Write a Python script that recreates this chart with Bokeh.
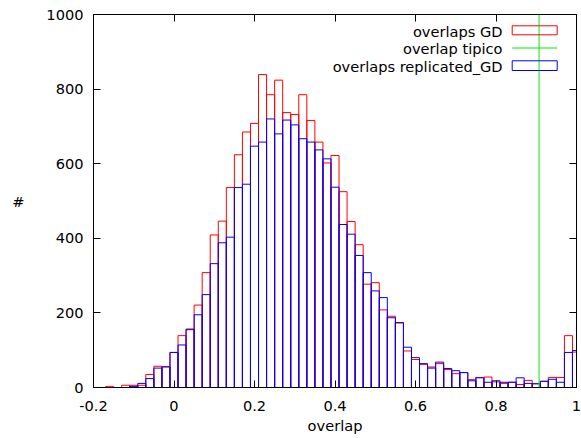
from bokeh.plotting import figure
from bokeh.models import (Range1d, LinearAxis, FixedTicker, Span, BoxAnnotation,
                          Label, CustomJSTickFormatter, ColumnDataSource)
from bokeh.embed import file_html
from bokeh.resources import INLINE

# ---------------- data ----------------
bin_centers = [-0.18, -0.16, -0.14, -0.12, -0.10, -0.08, -0.06, -0.04, -0.02, 0.00,
               0.02, 0.04, 0.06, 0.08, 0.10, 0.12, 0.14, 0.16, 0.18, 0.20,
               0.22, 0.24, 0.26, 0.28, 0.30, 0.32, 0.34, 0.36, 0.38, 0.40,
               0.42, 0.44, 0.46, 0.48, 0.50, 0.52, 0.54, 0.56, 0.58, 0.60,
               0.62, 0.64, 0.66, 0.68, 0.70, 0.72, 0.74, 0.76, 0.78, 0.80,
               0.82, 0.84, 0.86, 0.88, 0.90, 0.92, 0.94, 0.96, 0.98, 1.00]
bin_width = 0.02

overlaps_gd = [0, 3, 0, 6, 6, 6, 35, 57, 56, 94,
               139, 157, 221, 308, 409, 446, 536, 624, 685, 708,
               839, 785, 824, 737, 732, 785, 716, 658, 602, 622,
               525, 445, 383, 277, 281, 208, 191, 173, 98, 75,
               62, 55, 64, 48, 37, 40, 21, 27, 28, 15,
               11, 14, 8, 19, 10, 16, 27, 27, 139, 95]

overlaps_replicated_gd = [0, 0, 0, 0, 3, 11, 24, 52, 55, 94,
                          114, 155, 195, 249, 332, 388, 403, 536, 545, 647,
                          658, 720, 680, 717, 704, 667, 658, 637, 613, 537,
                          437, 411, 354, 308, 259, 241, 187, 174, 108, 80,
                          64, 52, 68, 51, 45, 40, 18, 26, 14, 18,
                          14, 14, 26, 11, 10, 17, 22, 14, 94, 99]

overlap_tipico = 0.907

x_ticks = [-0.2, 0, 0.2, 0.4, 0.6, 0.8, 1.0]
x_tick_labels = ["-0.2", "0", "0.2", "0.4", "0.6", "0.8", "1"]
y_ticks = [0, 200, 400, 600, 800, 1000]
y_tick_labels = ["0", "200", "400", "600", "800", "1000"]
legend_labels = ["overlaps GD", "overlap tipico", "overlaps replicated_GD"]

RED = "#ff0000"
GREEN = "#00ee00"
BLUE = "#0000ff"
FONT = "DejaVu Sans"
FS = "14.6px"

# ---------------- figure ----------------
p = figure(width=581, height=438, output_backend="svg", toolbar_location=None,
           x_range=Range1d(-0.2, 1.0), y_range=Range1d(0, 1000),
           min_border_left=93, min_border_right=5, min_border_top=14,
           min_border_bottom=51, x_axis_label="overlap", y_axis_label="#")
p.grid.visible = False
p.outline_line_color = "black"
p.outline_line_width = 1
p.background_fill_color = "white"
p.border_fill_color = "white"

lefts = [c - bin_width / 2 for c in bin_centers]
rights = [c + bin_width / 2 for c in bin_centers]
src = ColumnDataSource(dict(left=lefts, right=rights, gd=overlaps_gd,
                            rep=overlaps_replicated_gd,
                            bottom=[0] * len(bin_centers)))

p.quad(left="left", right="right", bottom="bottom", top="gd", source=src,
       fill_color=None, line_color=RED, line_width=1)
p.quad(left="left", right="right", bottom="bottom", top="rep", source=src,
       fill_color=None, line_color=BLUE, line_width=1)

p.add_layout(Span(location=overlap_tipico, dimension="height",
                  line_color=GREEN, line_width=1))

# axes
xax = p.xaxis[0]
xax.ticker = FixedTicker(ticks=x_ticks)
xax.major_label_overrides = dict(zip(x_ticks, x_tick_labels))
yax = p.yaxis[0]
yax.ticker = FixedTicker(ticks=y_ticks)
yax.major_label_overrides = dict(zip(y_ticks, y_tick_labels))
for ax in (xax, yax):
    ax.major_tick_in = 7
    ax.major_tick_out = 0
    ax.minor_tick_line_color = None
    ax.axis_line_color = "black"
    ax.major_tick_line_color = "black"
    ax.major_label_text_font = FONT
    ax.major_label_text_font_size = FS
    ax.major_label_text_color = "black"
    ax.axis_label_text_font = FONT
    ax.axis_label_text_font_size = FS
    ax.axis_label_text_font_style = "normal"
    ax.axis_label_text_color = "black"
xax.major_label_standoff = 13
xax.axis_label_standoff = 3
yax.major_label_standoff = 10
yax.axis_label_standoff = 19
yax.axis_label_orientation = "horizontal"

empty = CustomJSTickFormatter(code="return ''")
top_ax = LinearAxis(ticker=FixedTicker(ticks=x_ticks), formatter=empty)
right_ax = LinearAxis(ticker=FixedTicker(ticks=y_ticks), formatter=empty)
for ax in (top_ax, right_ax):
    ax.major_tick_in = 7
    ax.major_tick_out = 0
    ax.minor_tick_line_color = None
    ax.axis_line_color = "black"
    ax.major_tick_line_color = "black"
    ax.major_label_standoff = 0
    ax.major_label_text_font_size = "0px"
p.add_layout(top_ax, "above")
p.add_layout(right_ax, "right")

# legend (gnuplot style: text right-aligned, sample on the right)
text_x = 409
rows_y = [356.3, 338.7, 321.3]
for lab, yy in zip(legend_labels, rows_y):
    p.add_layout(Label(x=text_x, y=yy, x_units="screen", y_units="screen",
                       text=lab, text_align="right", text_baseline="middle",
                       text_font=FONT, text_font_size=FS, text_color="black"))
sx0, sx1 = 418.7, 463.7
p.add_layout(BoxAnnotation(left=sx0, right=sx1, bottom=352.7, top=361.7,
                           left_units="screen", right_units="screen",
                           bottom_units="screen", top_units="screen",
                           fill_color=None, line_color=RED, line_width=1,
                           line_alpha=1.0))
p.add_layout(BoxAnnotation(left=sx0, right=sx1, bottom=339.0, top=340.0,
                           left_units="screen", right_units="screen",
                           bottom_units="screen", top_units="screen",
                           fill_color=GREEN, fill_alpha=1.0, line_color=None))
p.add_layout(BoxAnnotation(left=sx0, right=sx1, bottom=317.0, top=326.7,
                           left_units="screen", right_units="screen",
                           bottom_units="screen", top_units="screen",
                           fill_color=None, line_color=BLUE, line_width=1,
                           line_alpha=1.0))

open("out.html", "w").write(file_html(p, INLINE))
